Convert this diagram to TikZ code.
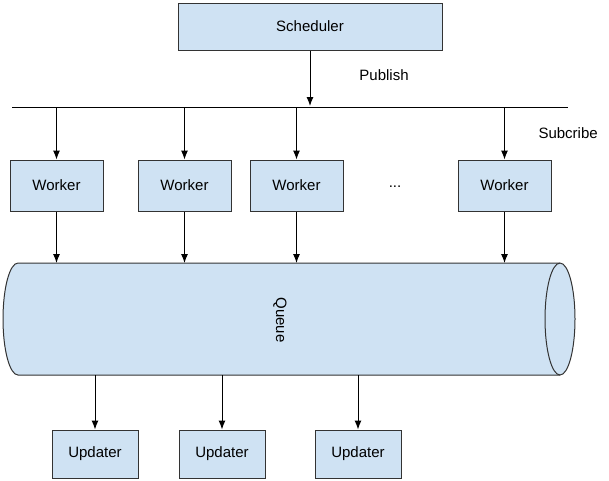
\documentclass[tikz,border=0pt]{standalone}
\usepackage{fontspec}
\setmainfont{Liberation Sans}
\usetikzlibrary{arrows.meta}
\definecolor{boxc}{HTML}{CFE2F3}
\begin{document}
\begin{tikzpicture}[x=1pt,y=-1pt,
  box/.style={draw=black!80,fill=boxc,line width=1pt,inner sep=0pt},
  arr/.style={-{Latex[length=9pt,width=7pt]},line width=1pt},
  txt/.style={font=\fontsize{15}{18}\selectfont}]
\useasboundingbox (0,0) rectangle (609,480);
\fill[white] (0,0) rectangle (609,480);
% scheduler
\node[box,txt,minimum width=264pt,minimum height=47pt] (sch) at (310,26.5) {Scheduler};
\coordinate (pub) at (310,106);
\draw[arr] (sch.south) -- (pub);
\node[txt] (publ) at (384,75) {Publish};
\coordinate (busL) at (12,107); \coordinate (busR) at (568,107);
\draw[line width=1pt] (busL) -- (busR);
\node[txt,anchor=west] (subl) at (535,133) {Subcribe};
% queue
\path[fill=boxc,draw=black!80,line width=1pt] (18,263) -- (560,263) arc[start angle=-90,end angle=90,x radius=15,y radius=56] -- (18,375) arc[start angle=90,end angle=270,x radius=15,y radius=56] -- cycle;
\draw[line width=1pt,draw=black!80] (560,263) arc[start angle=270,end angle=90,x radius=15,y radius=56];
\node[txt,rotate=-90] (q) at (280,320) {Queue};
% workers
\foreach \n/\x in {w1/56.5,w2/184.5,w3/296.5,w4/504.5}{
  \node[box,txt,minimum width=93pt,minimum height=51pt] (\n) at (\x,185.5) {Worker};
  \coordinate (\n t) at (\x,107);
  \draw[arr] (\n t) -- (\n.north);
  \coordinate (\n b) at (\x,263);
  \draw[arr] (\n.south) -- (\n b);
}
\node[txt] (dots) at (395,187) {...};
% updaters
\foreach \n/\x in {u1/95,u2/222,u3/358}{
  \node[box,txt,minimum width=86pt,minimum height=48pt] (\n) at (\x,454) {Updater};
  \coordinate (\n t) at (\x,375);
  \draw[arr] (\n t) -- (\n.north);
}
\end{tikzpicture}
\end{document}
